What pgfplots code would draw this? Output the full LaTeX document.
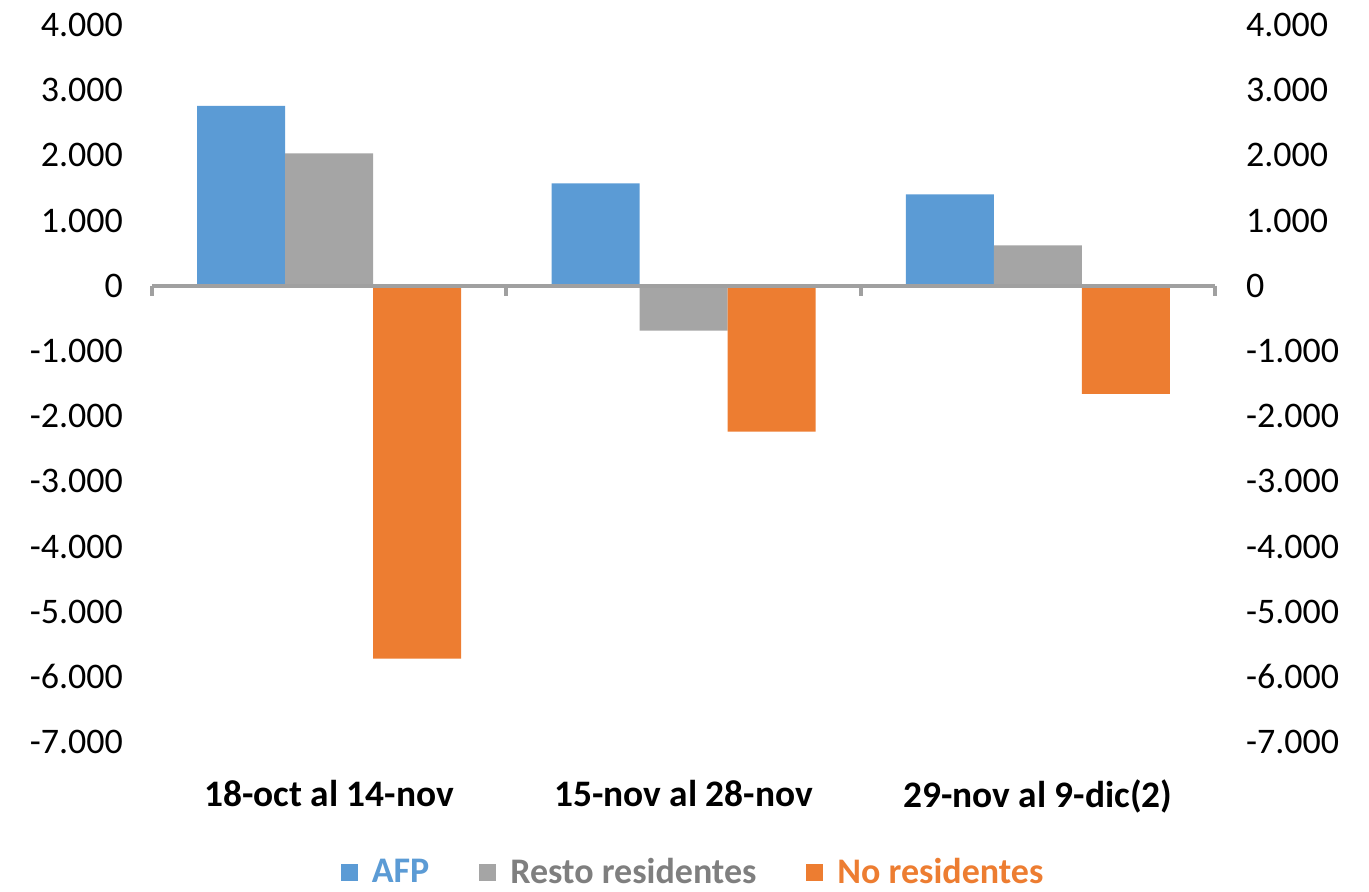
\documentclass[border=0pt]{standalone}
\usepackage{pgfplots}
\pgfplotsset{compat=1.18}
\usepackage{fontspec}
\setmainfont{Carlito}
\definecolor{cblue}{HTML}{5B9BD5}
\definecolor{cgray}{HTML}{A5A5A5}
\definecolor{corange}{HTML}{ED7D31}
\definecolor{tgray}{HTML}{7F7F7F}
\definecolor{lgray}{HTML}{A0A0A0}
\begin{document}
\begin{tikzpicture}
\begin{axis}[name=main,
  scale only axis, width=531.5pt, height=358.5pt,
  xmin=-0.5, xmax=2.5, ymin=-7000, ymax=4000,
  ybar=0pt, bar width=44pt,
  axis line style={draw=none},
  clip=false,
  xtick={0,1,2},
  xticklabels={18-oct al 14-nov,15-nov al 28-nov,29-nov al 9-dic(2)},
  x tick label style={font=\fontsize{18.7}{21}\selectfont\bfseries, yshift=-15.5pt},
  major tick length=0pt,
  ytick={-7000,-6000,...,4000},
  yticklabels={-7.000,-6.000,-5.000,-4.000,-3.000,-2.000,-1.000,0,1.000,2.000,3.000,4.000},
  y tick label style={font=\fontsize{18}{21}\selectfont, xshift=-11pt},
  yticklabel pos=left,
  legend style={at={(0.51,-0.182)}, anchor=center, draw=none, legend columns=3,
    font=\fontsize{18}{21}\selectfont\bfseries,
    /tikz/every even column/.append style={column sep=23pt},
    inner sep=0pt},
]
\addplot[fill=cblue, draw=none, legend image code/.code={\fill[cblue] (0pt,-4pt) rectangle (8.5pt,4.5pt);}]
  coordinates {(0,2760) (1,1570) (2,1400)};
\addlegendentry{\hspace{5pt}\textcolor{cblue}{AFP}}
\addplot[fill=cgray, draw=none, legend image code/.code={\fill[cgray] (0pt,-4pt) rectangle (8.5pt,4.5pt);}]
  coordinates {(0,2030) (1,-690) (2,620)};
\addlegendentry{\hspace{5pt}\textcolor{tgray}{Resto residentes}}
\addplot[fill=corange, draw=none, legend image code/.code={\fill[corange] (0pt,-4pt) rectangle (8.5pt,4.5pt);}]
  coordinates {(0,-5720) (1,-2240) (2,-1660)};
\addlegendentry{\hspace{5pt}\textcolor{corange}{No residentes}}
\draw[lgray, line width=2pt] (axis cs:-0.5,0) -- (axis cs:2.5,0);
\draw[lgray, line width=2pt] (axis cs:-0.5,0) -- ([yshift=-5pt]axis cs:-0.5,0);
\draw[lgray, line width=2pt] (axis cs:0.5,0) -- ([yshift=-5pt]axis cs:0.5,0);
\draw[lgray, line width=2pt] (axis cs:1.5,0) -- ([yshift=-5pt]axis cs:1.5,0);
\draw[lgray, line width=2pt] (axis cs:2.5,0) -- ([yshift=-5pt]axis cs:2.5,0);
\end{axis}
\begin{axis}[at={(main.south west)}, anchor=south west,
  scale only axis, width=531.5pt, height=358.5pt,
  xmin=-0.5, xmax=2.5, ymin=-7000, ymax=4000,
  axis line style={draw=none},
  xtick=\empty,
  major tick length=0pt,
  ytick={-7000,-6000,...,4000},
  yticklabels={-7.000,-6.000,-5.000,-4.000,-3.000,-2.000,-1.000,0,1.000,2.000,3.000,4.000},
  y tick label style={font=\fontsize{18}{21}\selectfont, xshift=12pt},
  yticklabel pos=right,
]
\end{axis}
\pgfresetboundingbox
\path[use as bounding box] (main.south west) ++(-76pt,-74.5pt) rectangle ++(684.5pt,445.5pt);
\end{tikzpicture}
\end{document}
